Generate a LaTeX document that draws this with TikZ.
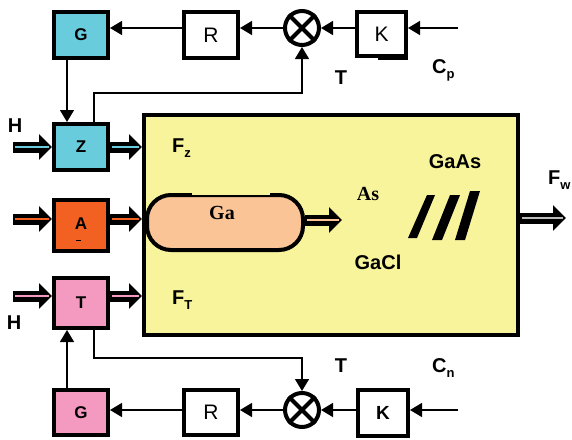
\documentclass[tikz,border=0pt]{standalone}
\usepackage{fontspec}
\setmainfont{Liberation Sans}
\newfontfamily\serifGa{Liberation Serif}
\usetikzlibrary{arrows.meta,calc}
\definecolor{cyanc}{HTML}{68CCDC}
\definecolor{orangec}{HTML}{F26122}
\definecolor{pinkc}{HTML}{F49AC1}
\definecolor{yellowc}{HTML}{F8F49C}
\definecolor{peachc}{HTML}{FBC497}
\definecolor{grayc}{HTML}{BBBBBB}
\newcommand\mysub[1]{\raisebox{-5pt}{\fontsize{13}{13}\selectfont #1}}
\newcommand\fatarr[3]{%
  \draw[fatblack] (#1) -- (#2);
  \draw[fatinner=#3] (#1) -- (#2);}
\begin{document}
\begin{tikzpicture}[x=1pt,y=-1pt,
  blk/.style={draw, line width=4pt, minimum width=54pt, minimum height=46pt, inner sep=0pt,
    font=\bfseries\fontsize{17}{17}\selectfont},
  blkw/.style={draw, line width=4pt, fill=white, minimum width=54pt, minimum height=46pt, inner sep=0pt,
    font=\fontsize{21}{21}\selectfont},
  cpl/.style={draw, circle, line width=4pt, fill=white, minimum size=34pt, inner sep=0pt},
  lbl/.style={inner sep=0pt, font=\bfseries\fontsize{20}{20}\selectfont},
  serlbl/.style={inner sep=0pt, font=\serifGa\bfseries\fontsize{20}{20}\selectfont},
  conn/.style={line width=1.5pt, -{Triangle[length=12pt,width=14pt]}},
  fatblack/.style={line width=11pt, -{Triangle[length=13pt,width=25pt]}},
  fatinner/.style={line width=2.2pt, draw=#1, shorten <=2pt, shorten >=3pt}
]
\useasboundingbox (0,0) rectangle (572,439);

% reactor and boat
\node[draw, line width=4pt, fill=yellowc, minimum width=374pt, minimum height=220pt, inner sep=0pt] (reac) at (331,225) {};
\node[draw, line width=4pt, fill=peachc, rounded corners=24pt, minimum width=156pt, minimum height=55pt, inner sep=0pt] (cap) at (225,222.5) {};
\fill[yellowc] (192,192.5) rectangle (270,195.3);

% upper loop
\node[blk, fill=cyanc] (Gt) at (81,35) {G};
\node[blkw] (Rt) at (211,35) {R};
\node[cpl] (Ct) at (302,28) {};
\draw[line width=4pt] (Ct.north west) -- (Ct.south east) (Ct.north east) -- (Ct.south west);
\node[blkw, minimum width=49pt, minimum height=44pt] (Kt) at (381.5,34) {K};
\fill[black] (378,57) rectangle (408,60);

% left blocks
\node[blk, fill=cyanc] (Z) at (81,147) {Z};
\node[blk, fill=orangec, minimum height=51pt] (A) at (81,225.5) {\raisebox{4pt}{A}};
\draw[line width=1pt] (75.5,240) -- (80.5,240);
\node[blk, fill=pinkc, minimum height=50pt] (T) at (81,303) {T};

% lower loop
\node[blk, fill=pinkc, minimum height=45pt] (Gb) at (81,412.5) {G};
\node[blkw, minimum height=45pt] (Rb) at (211,412.5) {R};
\node[cpl] (Cb) at (302,410) {};
\draw[line width=4pt] (Cb.north west) -- (Cb.south east) (Cb.north east) -- (Cb.south west);
\node[blkw, minimum width=50pt, minimum height=46pt, font=\bfseries\fontsize{19}{19}\selectfont] (Kb) at (383,413) {K};

% coordinates for free ends
\coordinate (hz) at (13,147);
\coordinate (ha) at (13,219);
\coordinate (ht) at (13,296);
\coordinate (capout) at (342,220);
\coordinate (wout) at (566,218);
\coordinate (cpin) at (458,28);
\coordinate (cnin) at (458,410);
\coordinate (fbt) at (302,93);
\coordinate (fbb) at (302,358);

% fat arrows
\fatarr{hz}{Z.west}{cyanc}
\fatarr{Z.east}{reac.west |- Z.east}{cyanc}
\fatarr{ha}{A.west |- ha}{orangec}
\fatarr{A.east |- ha}{reac.west |- ha}{orangec}
\fatarr{ht}{T.west |- ht}{pinkc}
\fatarr{T.east |- ht}{reac.west |- ht}{pinkc}
\fatarr{cap.east |- capout}{capout}{peachc}
\fatarr{reac.east |- wout}{wout}{grayc}

% thin connectors upper
\draw[conn] (cpin) -- (Kt.east |- cpin);
\draw[conn] (Kt.west |- Ct.east) -- (Ct.east);
\draw[conn] (Ct.west) -- (Rt.east |- Ct.west);
\draw[conn] (Rt.west |- Ct.west) -- (Gt.east |- Ct.west);
\draw[conn] ([xshift=-14pt]Gt.south) -- ([xshift=-14pt]Z.north);
\draw[conn] ([xshift=13pt]Z.north) |- (fbt) -- (Ct.south);

% thin connectors lower
\draw[conn] (cnin) -- (Kb.east |- cnin);
\draw[conn] (Kb.west |- Cb.east) -- (Cb.east);
\draw[conn] (Cb.west) -- (Rb.east |- Cb.west);
\draw[conn] (Rb.west |- Cb.west) -- (Gb.east |- Cb.west);
\draw[conn] ([xshift=-14pt]Gb.north) -- ([xshift=-14pt]T.south);
\draw[conn] ([xshift=13pt]T.south) |- (fbb) -- (Cb.north);

% slashes
\fill[black] (408,238) -- (417,238) -- (435,195) -- (427,195) -- cycle;
\fill[black] (432,240) -- (442,240) -- (460,195) -- (450,195) -- cycle;
\fill[black] (455,240) -- (465,240) -- (480,191) -- (470,191) -- cycle;

% labels
\node[lbl] (H1) at (15,126) {H};
\node[lbl] (H2) at (14,323) {H};
\node[lbl, anchor=west] (Fz) at (172,148) {F\mysub{z}};
\node[lbl, anchor=west] (FT) at (172,300) {F\mysub{T}};
\node[lbl, anchor=west] (Fw) at (548,180) {F\mysub{w}};
\node[lbl] (T1) at (341,78) {T};
\node[lbl, anchor=west] (Cp) at (432,70) {C\mysub{p}};
\node[lbl] (T2) at (341,366) {T};
\node[lbl, anchor=west] (Cn) at (432,368) {C\mysub{n}};
\node[lbl] (GaAs) at (455,162) {GaAs};
\node[lbl] (GaCl) at (378,262) {GaCl};
\node[serlbl] (As) at (368,194) {As};
\node[serlbl] (Ga) at (222,213) {Ga};
\end{tikzpicture}
\end{document}
